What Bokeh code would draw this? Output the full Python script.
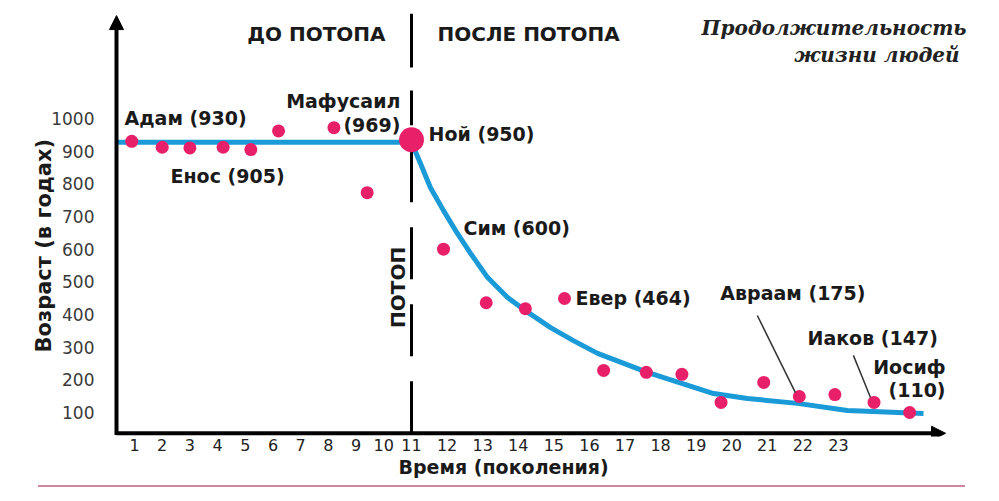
import math
from bokeh.plotting import figure
from bokeh.layouts import column
from bokeh.models import Range1d, FixedTicker, Arrow, NormalHead, Title, Div
from bokeh.core.properties import value
from bokeh.embed import file_html
from bokeh.resources import INLINE

# ---------------- data ----------------
# generations before the flood (own scale) and their ages
pre_gen = [0.9, 2.0, 3.0, 4.2, 5.2, 6.2, 8.2, 9.4]
pre_age = [930, 912, 910, 912, 905, 962, 972, 773]
# Noah
noah_gen = [11.0]
noah_age = [935]
# generations after the flood
post_gen = [11.9, 13.1, 14.2, 15.3, 16.4, 17.6, 18.6, 19.7, 20.9, 21.9, 22.9, 24.0, 25.0]
post_age = [600, 436, 418, 449, 229, 223, 217, 131, 192, 149, 155, 131, 100]
# trend line
pre_trend_gen = [0.36, 11.0]
pre_trend_age = [927, 927]
post_trend_gen = [11.0, 11.25, 11.53, 11.90, 12.29, 12.66, 13.14, 13.70, 14.20, 14.91, 15.55,
                  16.23, 17.63, 19.49, 20.44, 21.85, 23.25, 25.39]
post_trend_age = [927, 863, 789, 718, 648, 587, 513, 452, 412, 360, 320,
                  281, 223, 158, 143, 128, 106, 97]
# tick labels
pre_ticks = [1, 2, 3, 4, 5, 6, 7, 8, 9, 10]
post_ticks = [11, 12, 13, 14, 15, 16, 17, 18, 19, 20, 21, 22, 23]
y_ticks = [100, 200, 300, 400, 500, 600, 700, 800, 900, 1000]
# annotations
pre_lbl_text = ["Адам (930)", "Енос (905)"]
pre_lbl_x = [0.64, 2.30]
pre_lbl_y = [1003, 825]
pre_rlbl_text = ["Мафусаил", "(969)"]
pre_rlbl_x = [10.60, 10.60]
pre_rlbl_y = [1055, 979]
post_lbl_text = ["Ной (950)", "Сим (600)", "Евер (464)", "Авраам (175)", "Иаков (147)"]
post_lbl_x = [11.48, 12.46, 15.61, 19.68, 22.13]
post_lbl_y = [954, 666, 452, 465, 327]
post_rlbl_text = ["Иосиф", "(110)"]
post_rlbl_x = [26.01, 26.01]
post_rlbl_y = [238, 168]
leader_x0 = [20.72, 23.42]
leader_y0 = [397, 275]
leader_x1 = [21.79, 23.90]
leader_y1 = [161, 146]

# ---------------- layout constants ----------------
PRE_PX = 27.7     # px per generation before the flood
POST_PX = 35.58   # px per generation after the flood
W, H = 991, 480
BL, BR, BT, BB = 108, 21, 8, 44
fw = W - BL - BR
x0 = 11 - (411 - BL) / POST_PX
x1 = x0 + fw / POST_PX
px0 = 11 - (411 - BL) / PRE_PX
px1 = px0 + fw / PRE_PX
y0, y1 = 26.6, 1336.7

AXIS_X = 11 - (411 - 116) / POST_PX
AXIS_Y = 36.5

PINK = "#e8206a"
BLUE = "#1b9ad8"
FONT = value("DejaVu Sans")

p = figure(width=W, height=H, x_range=Range1d(x0, x1), y_range=Range1d(y0, y1),
           output_backend="svg", toolbar_location=None,
           min_border_left=BL, min_border_right=BR, min_border_top=BT, min_border_bottom=BB)
p.extra_x_ranges = {"pre": Range1d(px0, px1)}
p.background_fill_color = "white"
p.border_fill_color = "white"
p.outline_line_color = None
p.xgrid.visible = False
p.ygrid.visible = False

# axes
p.yaxis.ticker = FixedTicker(ticks=y_ticks)
p.yaxis.axis_line_color = None
p.yaxis.major_tick_line_color = None
p.yaxis.minor_tick_line_color = None
p.yaxis.major_label_standoff = 8
p.yaxis.major_label_text_font = "DejaVu Sans"
p.yaxis.major_label_text_font_size = "17px"
p.yaxis.major_label_text_color = "#3a3a3a"

tick_pos = [round(11 - (11 - g) * PRE_PX / POST_PX, 4) for g in pre_ticks] + [float(g) for g in post_ticks]
tick_lbl = [str(g) for g in pre_ticks + post_ticks]
p.xaxis.ticker = FixedTicker(ticks=tick_pos)
p.xaxis.major_label_overrides = {k: v for k, v in zip(tick_pos, tick_lbl)}
p.xaxis.axis_line_color = None
p.xaxis.major_tick_line_color = None
p.xaxis.minor_tick_line_color = None
p.xaxis.major_label_standoff = -4
p.xaxis.major_label_text_font = "DejaVu Sans"
p.xaxis.major_label_text_font_size = "16px"
p.xaxis.major_label_text_color = "#222222"

# axis titles
p.add_layout(Title(text="Возраст (в годах)", align="left", offset=84, text_font="DejaVu Sans",
                   text_font_style="bold", text_font_size="21px", text_color="#1a1a1a", standoff=-15), "left")
p.add_layout(Title(text="Время (поколения)", align="left", offset=290, text_font="DejaVu Sans",
                   text_font_style="bold", text_font_size="19px", text_color="#1a1a1a", standoff=0), "below")

# axis arrows
p.add_layout(Arrow(end=NormalHead(size=14, fill_color="black", line_color="black"),
                   x_start=AXIS_X, y_start=AXIS_Y - 5, x_end=AXIS_X, y_end=1315,
                   line_width=4, line_color="black"))
p.add_layout(Arrow(end=NormalHead(size=14, fill_color="black", line_color="black"),
                   x_start=AXIS_X, y_start=AXIS_Y, x_end=26.01, y_end=AXIS_Y,
                   line_width=4, line_color="black"))

# flood divider
p.line([11, 11], [1156, 1321], line_color="black", line_width=3)
p.line([11, 11], [AXIS_Y, 1086], line_color="black", line_width=3, line_dash="52 25")

# trend line
p.line(pre_trend_gen, pre_trend_age, x_range_name="pre", line_color=BLUE, line_width=5)
p.line(post_trend_gen, post_trend_age, line_color=BLUE, line_width=5, line_join="round")

# points
p.scatter(pre_gen, pre_age, x_range_name="pre", size=13, fill_color=PINK, line_color=None)
p.scatter(post_gen, post_age, size=13, fill_color=PINK, line_color=None)
p.scatter(noah_gen, noah_age, size=25, fill_color=PINK, line_color=None)

# leader lines
p.segment(leader_x0, leader_y0, leader_x1, leader_y1, line_color="#333333", line_width=1.5)

# labels
lab = dict(text_font=FONT, text_font_style="bold", text_font_size="19px", text_color="#1a1a1a",
           text_baseline="middle")
p.text(pre_lbl_x, pre_lbl_y, text=pre_lbl_text, x_range_name="pre", text_align="left", **lab)
p.text(pre_rlbl_x, pre_rlbl_y, text=pre_rlbl_text, x_range_name="pre", text_align="right", **lab)
p.text(post_lbl_x, post_lbl_y, text=post_lbl_text, text_align="left", **lab)
p.text(post_rlbl_x, post_rlbl_y, text=post_rlbl_text, text_align="right", **lab)

# headers
hdr = dict(text_font=FONT, text_font_style="bold", text_font_size="20px", text_color="#1a1a1a",
           text_baseline="middle")
p.text([10.27], [1260], text=["ДО ПОТОПА"], text_align="right", **hdr)
p.text([11.73], [1260], text=["ПОСЛЕ ПОТОПА"], text_align="left", **hdr)
p.text([10.61], [483], text=["ПОТОП"], angle=math.pi / 2, text_align="center", **hdr)

# title
ttl = dict(text_font=value("DejaVu Serif"), text_font_style="bold italic", text_font_size="20px",
           text_color="#222222", text_baseline="middle", text_align="right")
p.text([26.60, 26.60], [1278, 1193], text=["Продолжительность", "жизни  людей"], **ttl)

# pink rule under the chart
rule = Div(text="", width=927, height=2, margin=(5, 0, 0, 38),
           styles={"background-color": "#cf86a3"})

open("out.html", "w").write(file_html(column(p, rule), INLINE))
